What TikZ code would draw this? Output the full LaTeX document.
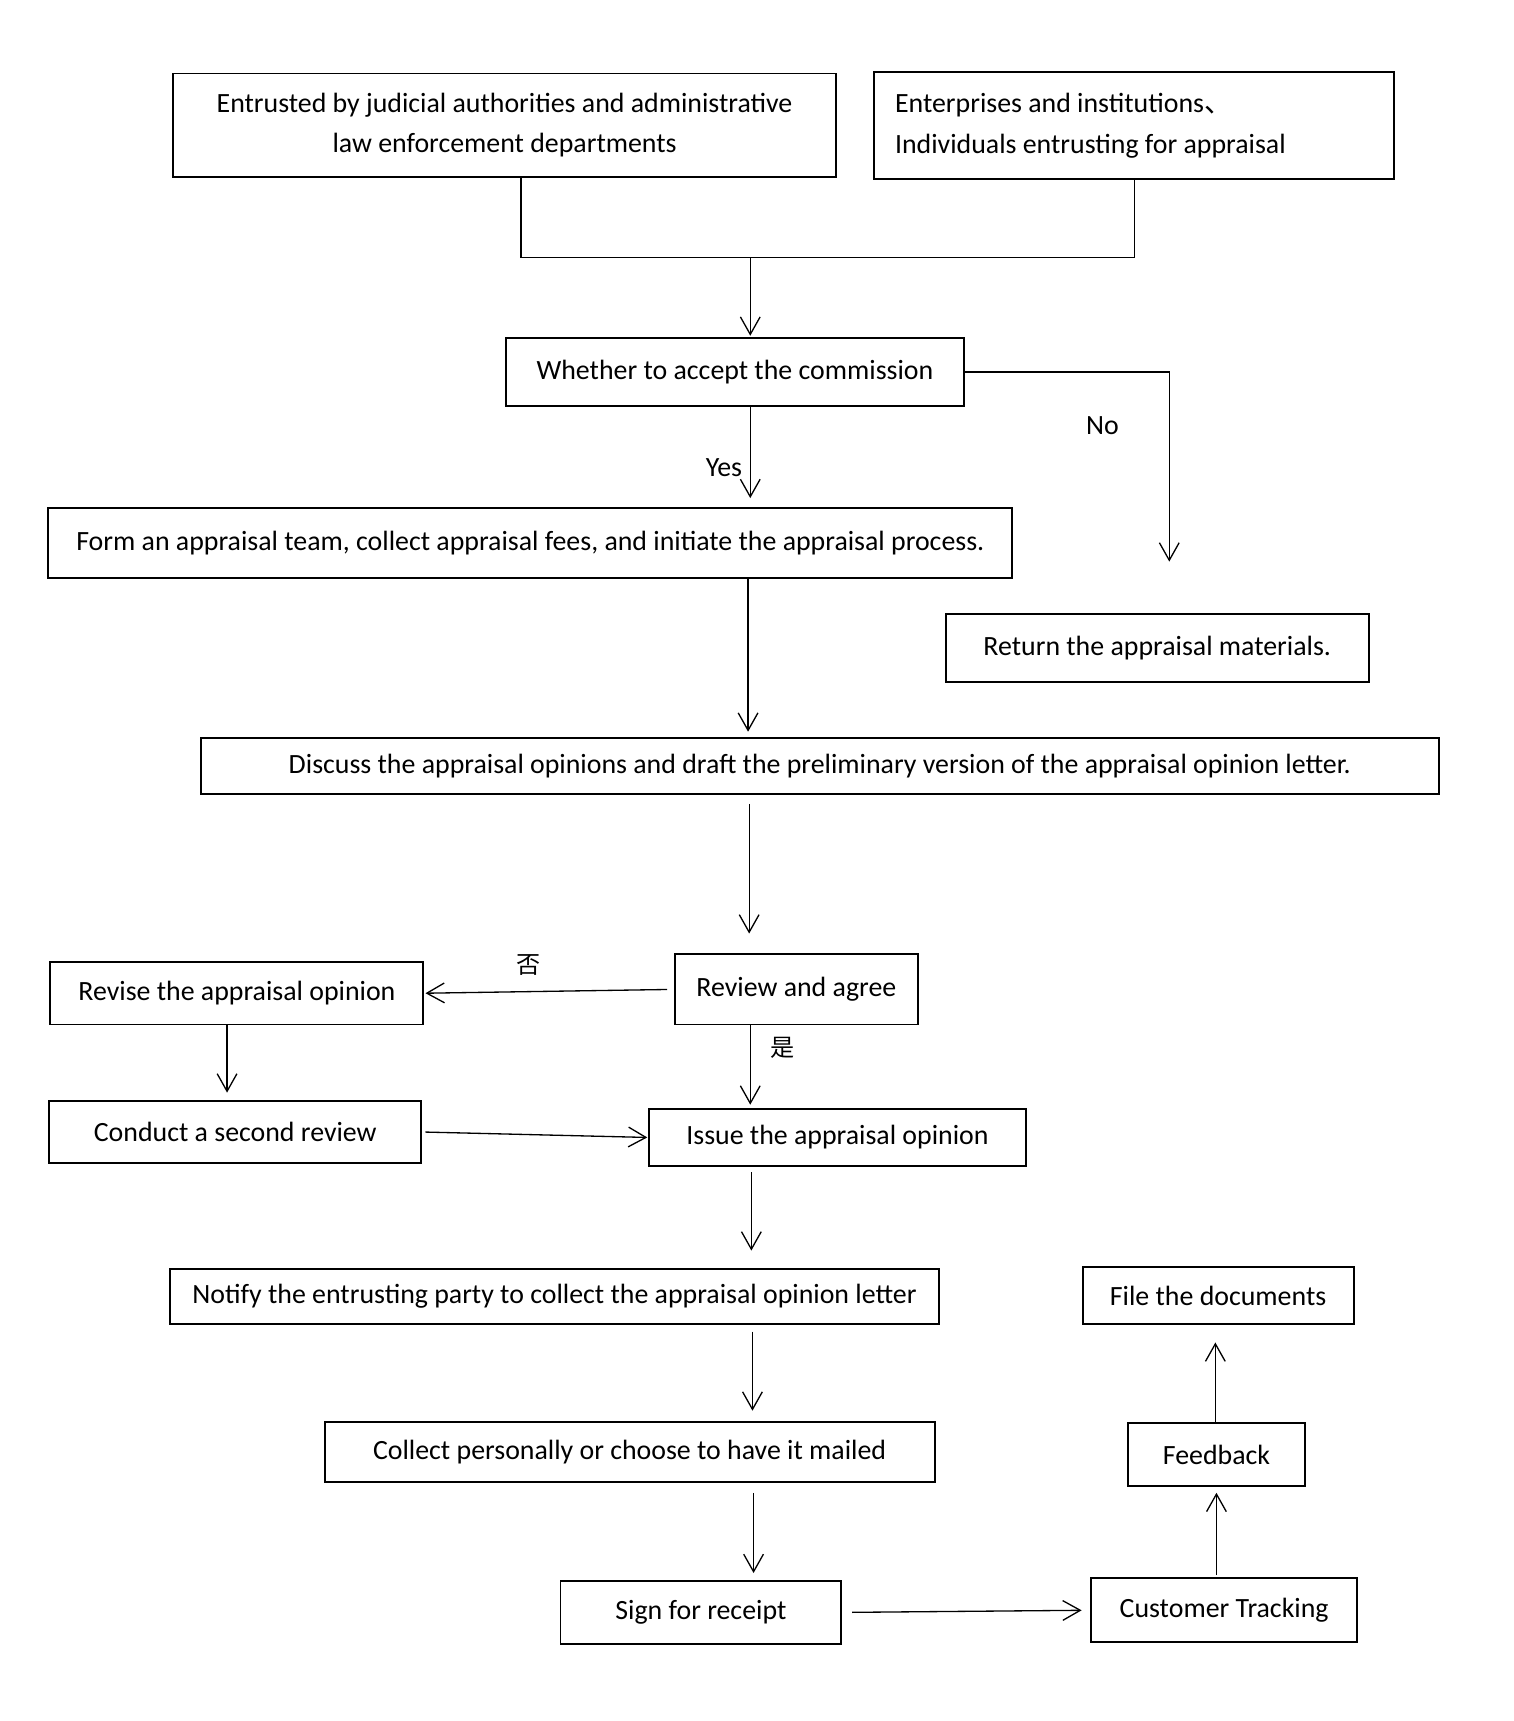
\documentclass[tikz,border=0pt]{standalone}
\usepackage{fontspec}
\setmainfont{Carlito}
\newfontfamily\cjk{Noto Sans CJK SC}
\usetikzlibrary{arrows.meta}
\begin{document}
\begin{tikzpicture}[x=0.5pt,y=-0.5pt,
  box/.style={draw,line width=0.9pt,inner sep=0pt,align=center,
    font=\fontsize{12.7}{18.5}\selectfont},
  bx/.style 2 args={box,minimum width=#1pt,minimum height=#2pt},
  arr/.style={-{Straight Barb[length=8pt,width=9pt]},line width=0.6pt},
  ln/.style={line width=0.6pt},
  lbl/.style={inner sep=0pt,font=\fontsize{12.7}{14}\selectfont},
  cjklbl/.style={inner sep=0pt,font=\cjk\fontsize{11}{12}\selectfont}]
\fill[white] (0,0) rectangle (1380,1569);
\useasboundingbox (0,0) rectangle (1380,1569);

\node[bx={302}{47}] (A) at (460,114) {Entrusted by judicial authorities and administrative\\law enforcement departments};
\node[bx={237}{48.5},align=flush left,text width=218pt] (B) at (1034,114.5) {Enterprises and institutions{\cjk 、}\\Individuals entrusting for appraisal};
\node[bx={209}{31}] (C) at (670,339) {Whether to accept the commission};
\node[bx={439.5}{32}] (D) at (483.5,495) {Form an appraisal team, collect appraisal fees, and initiate the appraisal process.};
\node[bx={193}{31}] (E) at (1055,591) {Return the appraisal materials.};
\node[bx={564.5}{25.5}] (F) at (747.5,698.5) {Discuss the appraisal opinions and draft the preliminary version of the appraisal opinion letter.};
\node[bx={111}{32}] (G) at (726,902) {Review and agree};
\node[bx={170}{28.5}] (H) at (216,905.5) {Revise the appraisal opinion};
\node[bx={171.5}{26}] (I) at (763.5,1037) {Issue the appraisal opinion};
\node[bx={169.5}{28}] (J) at (214.5,1032) {Conduct a second review};
\node[bx={350.5}{25}] (K) at (505.5,1182) {Notify the entrusting party to collect the appraisal opinion letter};
\node[bx={278}{27.5}] (L) at (574,1323.5) {Collect personally or choose to have it mailed};
\node[bx={128}{29}] (M) at (639,1470) {Sign for receipt};
\node[bx={121}{29}] (N) at (1116,1468) {Customer Tracking};
\node[bx={81}{29}] (O) at (1109,1326) {Feedback};
\node[bx={123.5}{26}] (P) at (1110.5,1181) {File the documents};

% merge of the two sources
\coordinate (j) at (684,235);
\draw[ln] (475,0 |- A.south) -- (475,235) -- (1034,235) -- (1034,0 |- B.south);
\draw[arr,shorten >=0.5pt] (j) -- (684,0 |- C.north);

% No branch
\coordinate (noend) at (1066,512);
\draw[arr] (C.east) -- (1066,0 |- C.east) -- (noend);
\node[lbl] (no) at (1005,388) {No};

% Yes branch
\draw[arr,shorten >=4pt] (684,0 |- C.south) -- (684,0 |- D.north);
\node[lbl] (yes) at (660,426) {Yes};

\draw[arr,shorten >=2.5pt] (682,0 |- D.south) -- (682,0 |- F.north);
\draw[arr,shorten <=4pt,shorten >=9pt] (683,0 |- F.south) -- (683,0 |- G.north);

\draw[arr,shorten <=3pt,shorten >=0.5pt] (G.west) -- (H.east);
\node[cjklbl] (fou) at (482,880) {否};
\draw[arr,shorten >=1.5pt] (684,0 |- G.south) -- (684,0 |- I.north);
\node[cjklbl] (shi) at (713,955) {是};

\draw[arr,shorten >=3.5pt] (207,0 |- H.south) -- (207,0 |- J.north);
\draw[arr,shorten <=1.5pt,shorten >=0.5pt] (J.east) -- (I.west);

\draw[arr,shorten <=2.5pt,shorten >=8pt] (685,0 |- I.south) -- (685,0 |- K.north);
\draw[arr,shorten <=3pt,shorten >=4.5pt] (686,0 |- K.south) -- (686,0 |- L.north);
\draw[arr,shorten <=4.5pt,shorten >=3pt] (687,0 |- L.south) -- (687,0 |- M.north);
\draw[arr,shorten <=4.5pt,shorten >=4pt] (M.east) -- (N.west);
\draw[arr,shorten <=1pt,shorten >=2.5pt] (1109,0 |- N.north) -- (1109,0 |- O.south);
\draw[arr,shorten >=8pt] (1108,0 |- O.north) -- (1108,0 |- P.south);
\end{tikzpicture}
\end{document}
